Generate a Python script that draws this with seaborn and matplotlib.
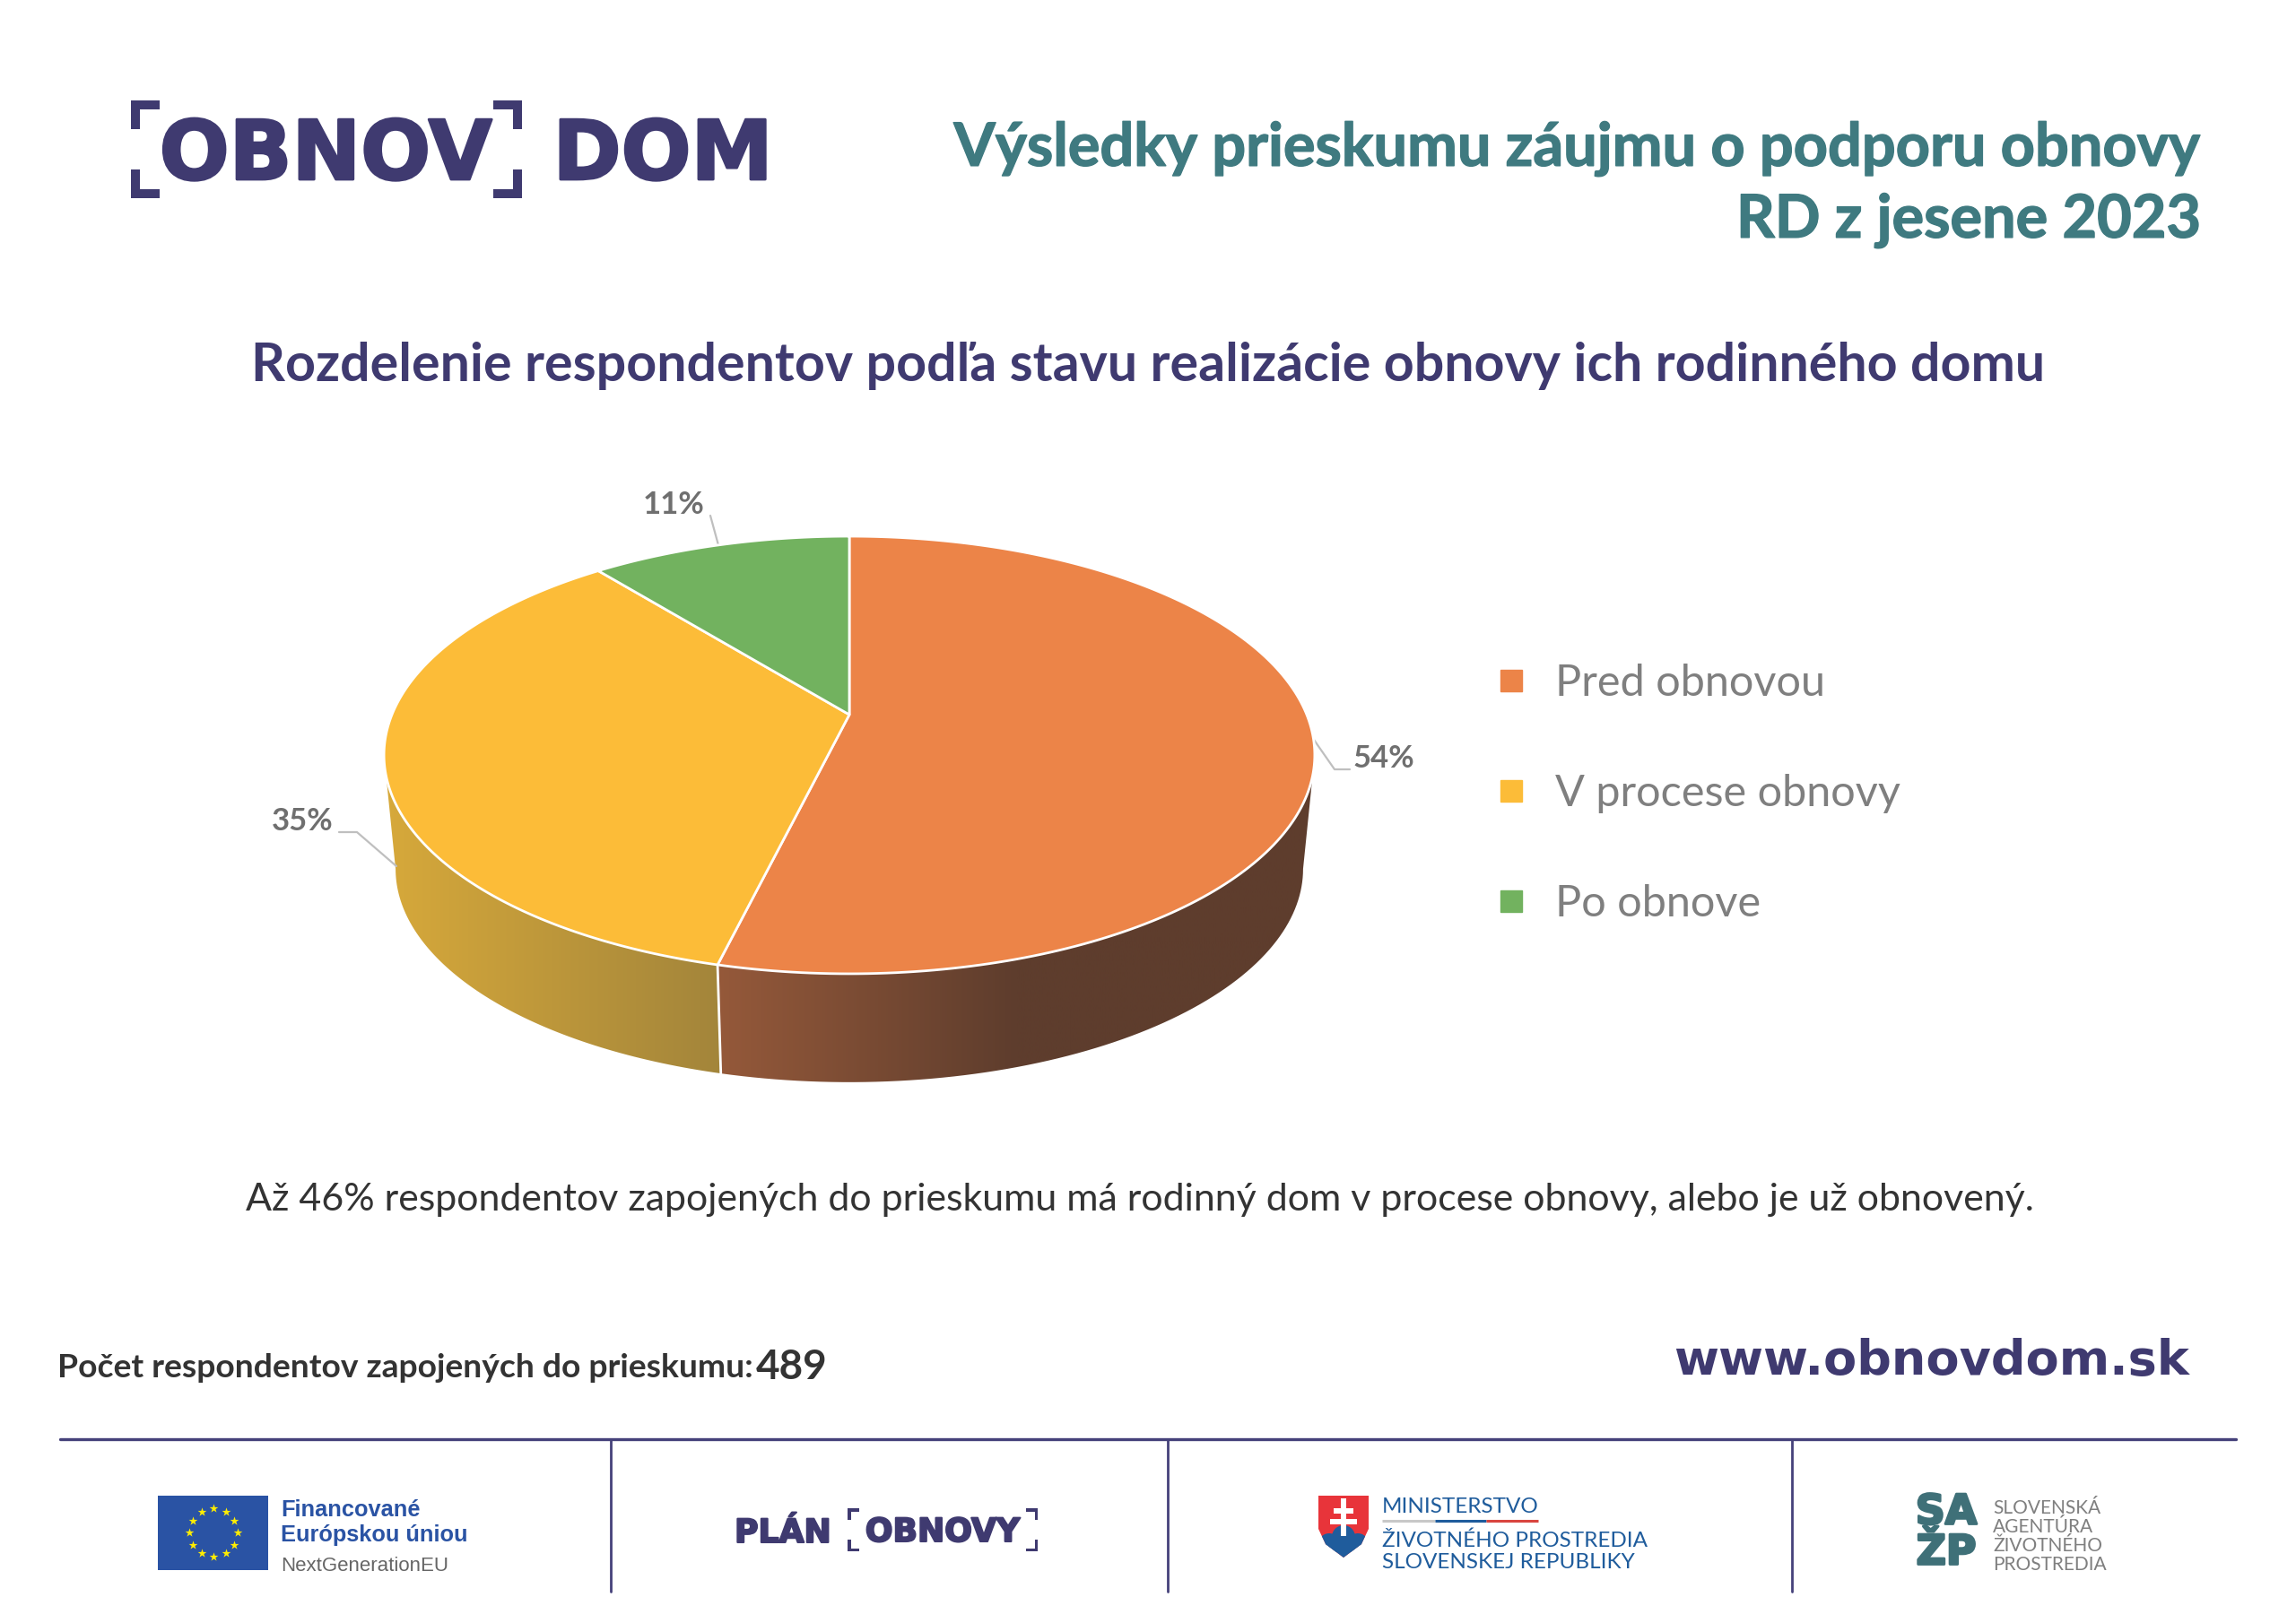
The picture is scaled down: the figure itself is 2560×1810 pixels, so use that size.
import matplotlib
matplotlib.use("Agg")
import matplotlib.patheffects as pe
import matplotlib.pyplot as plt
import numpy as np
import seaborn as sns
from matplotlib.colors import LinearSegmentedColormap
from matplotlib.lines import Line2D
from matplotlib.patches import Circle, Polygon, Rectangle

# survey values, clockwise from 12 o'clock
CATEGORIES = ["Pred obnovou", "V procese obnovy", "Po obnove"]
SHARES = [53.8, 35.4, 10.8]
RESPONDENTS = 489

NAVY = "#3F3A70"
TEAL = "#3F7A80"
DARK = "#333333"
GREY = "#7F7F7F"
BLUE = "#2A53A4"
MIN_BLUE = "#1F5C9C"
PALETTE = sns.color_palette(["#EC8448", "#FCBC38", "#72B25F"])

sns.set_theme(style="white")
plt.rcParams["font.family"] = ["Lato", "DejaVu Sans"]

fig, ax = plt.subplots(figsize=(25.6, 18.1), dpi=100)
fig.subplots_adjust(0, 0, 1, 1)
ax.set_axis_off()


def heavy(width, color=NAVY):
    return [pe.withStroke(linewidth=width, foreground=color)]


# ---------------------------------------------------------------------------
# 3D pie, a unit circle seen through a perspective
# ---------------------------------------------------------------------------

CX, PERSP, A, Y0, B = 947, 0.1844, 510, 797, -88.7
SHRINK, TOP_CY, BOT_CY = 0.975, 842, 969


def top_rim(theta):
    u, v = np.sin(theta), np.cos(theta)
    w = 1 + PERSP * v
    return CX + A * u / w, (Y0 + B * v) / w


def bottom_rim(theta):
    x, y = top_rim(theta)
    return CX + (x - CX) * SHRINK, BOT_CY + (y - TOP_CY) * SHRINK


def side_wall(start, end, stops, x0, x1):
    thetas = np.linspace(start, end, 80)
    xt, yt = top_rim(thetas)
    xb, yb = bottom_rim(thetas[::-1])
    clip = Polygon(np.c_[np.r_[xt, xb], np.r_[yt, yb]], transform=ax.transData,
                   fc="none", ec="none")
    ax.add_patch(clip)
    cmap = LinearSegmentedColormap.from_list("wall", stops)
    img = ax.imshow(np.linspace(0, 1, 256)[None, :], cmap=cmap, aspect="auto",
                    extent=(x0, x1, 1300, 800), zorder=1)
    img.set_clip_path(clip)


edges = np.radians(np.r_[0, np.cumsum(SHARES)] * 3.6)
right_limit = np.pi / 2 + np.arcsin(PERSP)
left_limit = 2 * np.pi - right_limit

side_wall(right_limit, edges[1], ["#95593A", "#5E3D2D", "#5E3D2D"], 800, 1465)
side_wall(edges[1], left_limit, ["#D7A93A", "#A3853B"], 428, 803)

seam_x = [top_rim(edges[1])[0], bottom_rim(edges[1])[0]]
seam_y = [top_rim(edges[1])[1], bottom_rim(edges[1])[1]]
ax.plot(seam_x, seam_y, color="white", lw=2, zorder=2)

for i, color in enumerate(PALETTE):
    thetas = np.linspace(edges[i], edges[i + 1], 200)
    xs, ys = top_rim(thetas)
    ax.fill(np.r_[CX, xs], np.r_[Y0, ys], fc=color, ec="white", lw=2,
            joinstyle="round", zorder=3)

# value labels with leader lines
LABEL_POS = [(1543, 846), (337, 916), (751, 563)]
LEADERS = [
    ([1465, 1488, 1505], [825, 858, 858]),
    ([442, 398, 378], [966, 928, 928]),
    ([801, 792], [608, 575]),
]
for share, (lx, ly), (px, py) in zip(SHARES, LABEL_POS, LEADERS):
    ax.plot(px, py, color="#BFBFBF", lw=1.6, zorder=2)
    ax.text(lx, ly, f"{share:.0f}%", ha="center", va="center", fontsize=25,
            fontweight="bold", color="#6F6F6F")

handles = [Line2D([], [], ls="", marker="s", ms=17, color=c) for c in PALETTE]
ax.legend(handles, CATEGORIES, loc="upper left", bbox_to_anchor=(1661 / 2560, 1 - 740 / 1810),
          frameon=False, prop={"family": "Lato", "size": 35}, labelcolor=GREY,
          labelspacing=1.63, handlelength=1, handletextpad=0.5, borderpad=0, borderaxespad=0)


# ---------------------------------------------------------------------------
# Headings and notes
# ---------------------------------------------------------------------------

def brackets(x0, x1, y0, y1, arm_x, arm_y, th, color):
    for xa, sx in ((x0, 1), (x1, -1)):
        for ya, sy in ((y0, 1), (y1, -1)):
            ax.add_patch(Rectangle((xa, ya), sx * arm_x, sy * th, fc=color, ec="none"))
            ax.add_patch(Rectangle((xa, ya), sx * th, sy * arm_y, fc=color, ec="none"))


brackets(146, 582, 112, 221, 32, 32, 10, NAVY)
ax.text(363, 174, "OBNOV", ha="center", va="center", fontsize=66, fontweight="bold",
        family="DejaVu Sans", color=NAVY, path_effects=heavy(2))
ax.text(739, 174, "DOM", ha="center", va="center", fontsize=66, fontweight="bold",
        family="DejaVu Sans", color=NAVY, path_effects=heavy(2))

ax.text(2454, 166, "Výsledky prieskumu záujmu o podporu obnovy", ha="right", va="center",
        fontsize=48, fontweight="bold", color=TEAL, path_effects=heavy(1, TEAL))
ax.text(2454, 246, "RD z jesene 2023", ha="right", va="center",
        fontsize=48, fontweight="bold", color=TEAL, path_effects=heavy(1, TEAL))
ax.text(1280, 408, "Rozdelenie respondentov podľa stavu realizácie obnovy ich rodinného domu",
        ha="center", va="center", fontsize=42.6, fontweight="bold", color=NAVY)
ax.text(1271, 1338, "Až 46% respondentov zapojených do prieskumu má rodinný dom v procese obnovy, alebo je už obnovený.",
        ha="center", va="center", fontsize=30.9, color=DARK)
ax.text(64, 1525, "Počet respondentov zapojených do prieskumu:", ha="left", va="center",
        fontsize=26.8, fontweight="bold", color=DARK)
ax.text(843, 1525, str(RESPONDENTS), ha="left", va="center", fontsize=33,
        fontweight="bold", color=DARK)
ax.text(2441, 1518, "www.obnovdom.sk", ha="right", va="center", fontsize=39,
        fontweight="bold", family="DejaVu Sans", color=NAVY)


# ---------------------------------------------------------------------------
# Footer
# ---------------------------------------------------------------------------

ax.plot([67, 2493], [1605, 1605], color="#45417A", lw=2.4)
for sep_x in (681, 1302, 1998):
    ax.plot([sep_x, sep_x], [1605, 1775], color="#45417A", lw=2)

# EU flag
ax.add_patch(Rectangle((176, 1668), 123, 83, fc=BLUE, ec="none"))
star_angles = np.radians(np.arange(0, 360, 30))
ax.scatter(238 + 27 * np.sin(star_angles), 1709 + 27 * np.cos(star_angles), marker="*",
           s=55, color="#FFED00", linewidths=0, zorder=3)
ax.text(313, 1684, "Financované", fontsize=18.3, fontweight="bold", family="Liberation Sans",
        color=BLUE, va="center")
ax.text(313, 1712, "Európskou úniou", fontsize=18.3, fontweight="bold", family="Liberation Sans",
        color=BLUE, va="center")
ax.text(313, 1746, "NextGenerationEU", fontsize=16, family="Liberation Sans", color="#666666",
        va="center")

# Plan obnovy
brackets(945, 1157, 1682, 1730, 13, 13, 3.5, NAVY)
ax.text(873, 1710, "PLÁN", ha="center", va="center", fontsize=26, fontweight="bold",
        family="DejaVu Sans", color=NAVY, path_effects=heavy(1.5))
ax.text(1051, 1709, "OBNOVY", ha="center", va="center", fontsize=26, fontweight="bold",
        family="DejaVu Sans", color=NAVY, path_effects=heavy(1.5))

# ministry shield
shield = Polygon([(1470, 1668), (1526, 1668), (1526, 1705), (1518, 1722), (1498, 1737),
                  (1478, 1722), (1470, 1705)], fc="#E8343A", ec="none", zorder=2)
ax.add_patch(shield)
for mx, my, mr in ((1482, 1722, 12), (1498, 1714, 13), (1514, 1722, 12)):
    hill = Circle((mx, my), mr, fc=MIN_BLUE, ec="none", zorder=3)
    ax.add_patch(hill)
    hill.set_clip_path(shield)
ax.add_patch(Rectangle((1470, 1722), 56, 16, fc=MIN_BLUE, ec="none", zorder=3, clip_path=shield))
for cx_, cy_, cw, ch in ((1498, 1692, 6, 42), (1498, 1685, 22, 6), (1498, 1697, 30, 6)):
    ax.add_patch(Rectangle((cx_ - cw / 2, cy_ - ch / 2), cw, ch, fc="white", ec="none", zorder=4))

ax.text(1541, 1680, "MINISTERSTVO", fontsize=17.5, color=MIN_BLUE, va="center")
for x0, x1, c in ((1541, 1600, "#C8C8C8"), (1600, 1657, MIN_BLUE), (1657, 1715, "#D9453F")):
    ax.plot([x0, x1], [1696, 1696], color=c, lw=2.2, solid_capstyle="butt")
ax.text(1541, 1718, "ŽIVOTNÉHO PROSTREDIA", fontsize=17.5, color=MIN_BLUE, va="center")
ax.text(1541, 1742, "SLOVENSKEJ REPUBLIKY", fontsize=17.5, color=MIN_BLUE, va="center")

# agency mark
for row_y, row in ((1687, "SA"), (1732, "ŽP")):
    ax.text(2170, row_y, row, ha="center", va="center", fontsize=33, fontweight="bold",
            family="DejaVu Sans", color="#3F7078", path_effects=heavy(2, "#3F7078"))
for row_y, row in zip((1682, 1703, 1724, 1745),
                      ("SLOVENSKÁ", "AGENTÚRA", "ŽIVOTNÉHO", "PROSTREDIA")):
    ax.text(2222, row_y, row, fontsize=15, color=GREY, va="center")

ax.set_xlim(0, 2560)
ax.set_ylim(1810, 0)
fig.savefig("out.png", dpi=100, facecolor="white")
